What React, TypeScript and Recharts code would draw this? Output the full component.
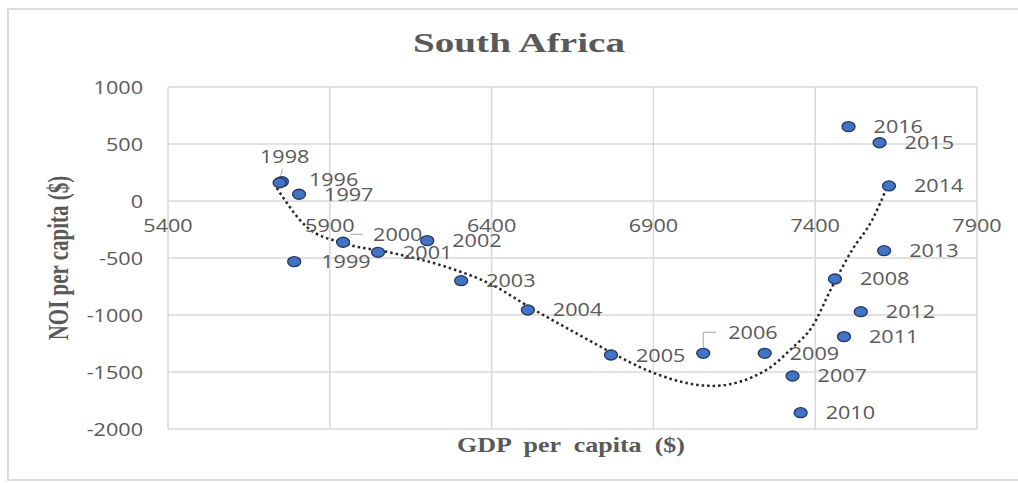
import React from "react";
import {
  ComposedChart,
  Scatter,
  Line,
  XAxis,
  YAxis,
  CartesianGrid,
  ReferenceDot,
} from "recharts";

// ---- data ----
const years = [
  1996, 1997, 1998, 1999, 2000, 2001, 2002, 2003, 2004, 2005, 2006, 2007,
  2008, 2009, 2010, 2011, 2012, 2013, 2014, 2015, 2016,
];
const gdpPerCapita = [
  5752, 5805, 5745, 5790, 5941, 6049, 6201, 6306, 6512, 6769, 7054, 7330,
  7461, 7244, 7355, 7489, 7541, 7613, 7628, 7599, 7503,
];
const noiPerCapita = [
  170, 59, 160, -532, -362, -450, -348, -699, -956, -1351, -1336, -1535,
  -684, -1336, -1857, -1190, -971, -436, 132, 511, 652,
];
// dotted trend line
const trendGdp = [
  5736, 5829, 5940, 6094, 6261, 6403, 6517, 6671, 6767, 6878, 7082, 7249,
  7329, 7390, 7452, 7514, 7576, 7622,
];
const trendNoi = [
  114, -228, -368, -456, -579, -737, -930, -1175, -1324, -1482, -1622,
  -1482, -1289, -1105, -754, -430, -167, 123,
];
const xTicks = [5400, 5900, 6400, 6900, 7400, 7900];
const yTicks = [-2000, -1500, -1000, -500, 0, 500, 1000];

const points = years.map((year, i) => ({
  x: gdpPerCapita[i],
  y: noiPerCapita[i],
  year,
}));
const trend = trendGdp.map((x, i) => ({ x, y: trendNoi[i] }));

// ---- styling ----
const GRAY = "#595959";
const LABEL_FONT = "'Open Sans', sans-serif";
const SERIF = "'Liberation Serif', 'Times New Roman', serif";

type LabelPlace = {
  dx: number;
  dy: number;
  anchor?: "start" | "middle";
  leader?: number[][];
};
const defaultPlace: LabelPlace = { dx: 25, dy: 0 };
const labelPlaces: Record<number, LabelPlace> = {
  1996: { dx: 27, dy: -2 },
  1998: { dx: 5, dy: -26, anchor: "middle", leader: [[1, -7], [3, -14]] },
  1999: { dx: 27, dy: 0 },
  2000: { dx: 30, dy: -8, leader: [[7, -8], [20, -8]] },
  2006: { dx: 25, dy: -21, leader: [[0, -6], [0, -21], [13, -21]] },
};

function SText({
  x,
  y,
  sx = 1.2,
  anchor = "start",
  children,
}: {
  x: number;
  y: number;
  sx?: number;
  anchor?: string;
  children: React.ReactNode;
}) {
  return (
    <text
      transform={`translate(${x},${y}) scale(${sx},1)`}
      x={0}
      y={0}
      textAnchor={anchor}
      fontFamily={LABEL_FONT}
      fontSize={18}
      fill={GRAY}
    >
      {children}
    </text>
  );
}

function PointShape(props: any) {
  const { cx, cy, payload } = props;
  if (cx == null || cy == null) return null;
  const place = labelPlaces[payload.year] || defaultPlace;
  return (
    <g>
      {place.leader && (
        <polyline
          points={place.leader
            .map(([a, b]) => `${cx + a},${cy + b}`)
            .join(" ")}
          fill="none"
          stroke="#a6a6a6"
          strokeWidth={1}
        />
      )}
      <ellipse
        cx={cx}
        cy={cy}
        rx={6.5}
        ry={5}
        fill="#4472C4"
        stroke="#203864"
        strokeWidth={1.3}
      />
      <SText
        x={cx + place.dx}
        y={cy + place.dy + 6.5}
        anchor={place.anchor || "start"}
      >
        {payload.year}
      </SText>
    </g>
  );
}

function YTick(props: any) {
  const { x, y, payload } = props;
  return (
    <SText x={x} y={y + 6.5} anchor="end">
      {payload.value}
    </SText>
  );
}

export default function App() {
  return (
    <div
      style={{
        position: "absolute",
        left: 0,
        top: 0,
        width: 1018,
        height: 483,
        background: "#fff",
        overflow: "hidden",
      }}
    >
      <div
        style={{
          position: "absolute",
          left: 7,
          top: 8,
          width: 1030,
          height: 469,
          border: "2px solid #dcdcdc",
        }}
      />
      <ComposedChart
        width={1018}
        height={483}
        margin={{ top: 87, right: 41, bottom: 54, left: 0 }}
        style={{ position: "absolute", left: 0, top: 0 }}
      >
        <CartesianGrid stroke="#d9d9d9" strokeWidth={1.5} />
        <XAxis
          type="number"
          dataKey="x"
          domain={[5400, 7900]}
          ticks={xTicks}
          hide
        />
        <YAxis
          type="number"
          dataKey="y"
          domain={[-2000, 1000]}
          ticks={yTicks}
          width={168}
          tickSize={0}
          tickMargin={25}
          axisLine={false}
          tickLine={false}
          tick={<YTick />}
          interval={0}
        />
        {xTicks.map((t) => (
          <ReferenceDot
            key={t}
            x={t}
            y={0}
            r={0}
            fill="none"
            stroke="none"
            ifOverflow="visible"
            label={{
              content: (p: any) => {
                const vb = p.viewBox || {};
                const cx = (vb.x || 0) + (vb.width || 0) / 2;
                const cy = (vb.y || 0) + (vb.height || 0) / 2;
                return (
                  <SText x={cx} y={cy + 24 + 6.5} anchor="middle">
                    {t}
                  </SText>
                );
              },
            }}
          />
        ))}
        <Line
          data={trend}
          dataKey="y"
          type="monotone"
          stroke="#262626"
          strokeWidth={2.5}
          strokeDasharray="2.5 3"
          dot={false}
          activeDot={false}
          isAnimationActive={false}
        />
        <Scatter
          data={points}
          dataKey="y"
          shape={<PointShape />}
          isAnimationActive={false}
        />
        <text
          x={519}
          y={52}
          textAnchor="middle"
          fontFamily={SERIF}
          fontWeight="bold"
          fontSize={27}
          fill={GRAY}
          textLength={212}
          lengthAdjust="spacingAndGlyphs"
        >
          South Africa
        </text>
        <text
          x={571}
          y={452}
          textAnchor="middle"
          fontFamily={SERIF}
          fontWeight="bold"
          fontSize={21}
          fill={GRAY}
          textLength={228}
          lengthAdjust="spacingAndGlyphs"
          style={{ whiteSpace: "pre" }}
        >
          GDP  per  capita  ($)
        </text>
        <text
          transform="translate(68,258) scale(1.4,1) rotate(-90)"
          x={0}
          y={0}
          textAnchor="middle"
          fontFamily={SERIF}
          fontWeight="bold"
          fontSize={21}
          fill={GRAY}
        >
          NOI per capita ($)
        </text>
      </ComposedChart>
    </div>
  );
}
